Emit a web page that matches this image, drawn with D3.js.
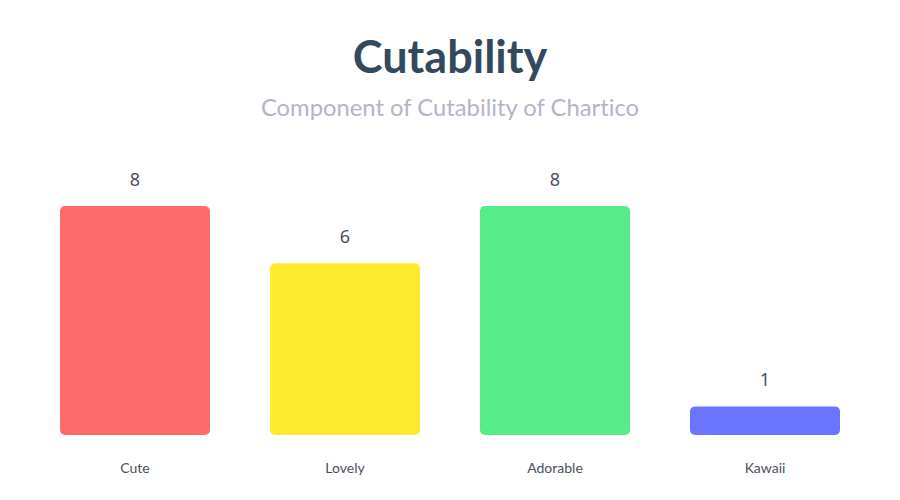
<!DOCTYPE html>
<html lang="en">
<head>
    <meta charset="UTF-8">
    <title>Cutability</title>
    <script src="https://d3js.org/d3.v7.min.js"></script>
    <style>
        body { margin: 0; background: #fff; }
        text { font-variant-ligatures: none; }
        .title { font-family: Lato, sans-serif; font-weight: bold; font-size: 45px; fill: #34495e; }
        .subtitle { font-family: Lato, sans-serif; font-size: 23.8px; fill: #b4b4c8; }
        .value { font-family: "Noto Sans", sans-serif; font-size: 18px; fill: #4a5060; }
        .cat { font-family: Lato, sans-serif; font-size: 14px; fill: #4a5060; }
    </style>
</head>
<body>
    <svg width="900" height="500"></svg>
    <script>
        const categories = ["Cute", "Lovely", "Adorable", "Kawaii"];
        const values = [8, 6, 8, 1];
        const colors = ["#ff6b6b", "#ffeb2e", "#57eb8a", "#6b74ff"];

        const width = 900, height = 500;
        const baseY = 435, topY = 206;

        const svg = d3.select("svg");

        svg.append("text").attr("class", "title")
            .attr("x", width / 2).attr("y", 73)
            .attr("text-anchor", "middle").text("Cutability");

        svg.append("text").attr("class", "subtitle")
            .attr("x", width / 2).attr("y", 116)
            .attr("text-anchor", "middle").text("Component of Cutability of Chartico");

        const x = d3.scaleBand()
            .domain(categories)
            .range([0, width])
            .paddingInner(2 / 7)
            .paddingOuter(2 / 7);

        const y = d3.scaleLinear()
            .domain([0, 8])
            .range([baseY, topY]);

        const bars = svg.selectAll(".bar")
            .data(categories)
            .enter().append("g");

        bars.append("rect")
            .attr("x", d => x(d))
            .attr("width", x.bandwidth())
            .attr("y", (d, i) => y(values[i]))
            .attr("height", (d, i) => baseY - y(values[i]))
            .attr("rx", 5)
            .attr("fill", (d, i) => colors[i]);

        bars.append("text").attr("class", "value")
            .attr("x", d => x(d) + x.bandwidth() / 2)
            .attr("y", (d, i) => y(values[i]) - 20)
            .attr("text-anchor", "middle")
            .text((d, i) => values[i]);

        bars.append("text").attr("class", "cat")
            .attr("x", d => x(d) + x.bandwidth() / 2)
            .attr("y", 473)
            .attr("text-anchor", "middle")
            .text(d => d);
    </script>
</body>
</html>
